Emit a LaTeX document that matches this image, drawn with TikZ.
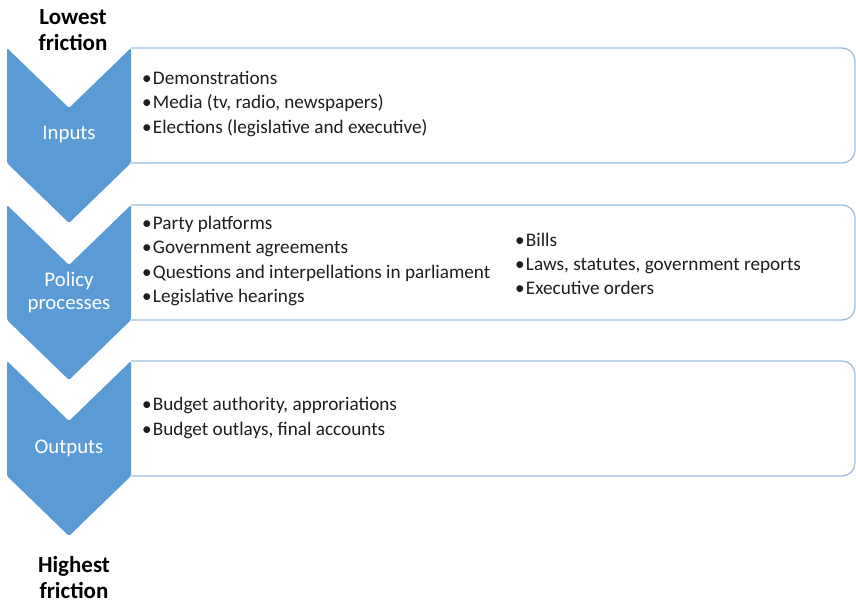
\documentclass[tikz,border=0pt]{standalone}
\usepackage{fontspec}
\setmainfont{Carlito}
\usepackage{xcolor}
\definecolor{stageblue}{RGB}{91, 155, 213}
\definecolor{frameblue}{RGB}{160, 192, 226}
\definecolor{bodytext}{RGB}{30, 30, 30}
\usepackage{tikz}
\usetikzlibrary{positioning}
\tikzstyle{stage} = [
    fill=stageblue,
    rounded corners=1.5pt
]
\tikzstyle{stagelabel} = [
    text=white,
    font=\fontsize{20.8}{23}\selectfont,
    align=center,
    inner sep=0pt
]
\tikzstyle{panel} = [
    draw=frameblue,
    line width=1.3pt,
    fill=white,
    rounded corners=13pt
]
\tikzstyle{itemlist} = [
    anchor=west,
    align=left,
    text=bodytext,
    font=\fontsize{19.2}{24.3}\selectfont,
    inner sep=0pt
]
\tikzstyle{friction} = [
    font=\fontsize{23}{26}\selectfont\bfseries,
    align=center,
    inner sep=0pt
]
\newcommand{\bul}{\textbullet\hspace{1.2pt}}

\begin{document}
\begin{tikzpicture}[x=1pt, y=-1pt]
    % Page frame
    \useasboundingbox (0,0) rectangle (856,604);

    % Content panels
    \draw[panel] (131,48) -- (855,48) -- (855,163) -- (131,163);
    \draw[panel] (131,205) -- (855,205) -- (855,320) -- (131,320);
    \draw[panel] (131,361) -- (855,361) -- (855,476) -- (131,476);

    % Chevrons
    \fill[stage] (7,48) -- (69,108) -- (131,48) -- (131,163) -- (69,223) -- (7,163) -- cycle;
    \fill[stage] (7,205) -- (69,265) -- (131,205) -- (131,320) -- (69,380) -- (7,320) -- cycle;
    \fill[stage] (7,361) -- (69,421) -- (131,361) -- (131,476) -- (69,536) -- (7,476) -- cycle;

    % Stage names
    \node[stagelabel] (inputs) at (69,135) {Inputs};
    \node[stagelabel] (policy) at (69,292) {Policy\\processes};
    \node[stagelabel] (outputs) at (69,448) {Outputs};

    % Friction scale
    \node[friction] (lowest) at (73,30) {Lowest\\friction};
    \node[friction] (highest) at (74,578) {Highest\\friction};

    % Items
    \node[itemlist] (inputitems) at (142,104) {\bul Demonstrations\\
        \bul Media (tv, radio, newspapers)\\
        \bul Elections (legislative and executive)};
    \node[itemlist] (policyitems) at (142,261) {\bul Party platforms\\
        \bul Government agreements\\
        \bul Questions and interpellations in parliament\\
        \bul Legislative hearings};
    \node[itemlist] (lawitems) at (515,264) {\bul Bills\\
        \bul Laws, statutes, government reports\\
        \bul Executive orders};
    \node[itemlist] (outputitems) at (142,418) {\bul Budget authority, approriations\\
        \bul Budget outlays, final accounts};
\end{tikzpicture}
\end{document}
